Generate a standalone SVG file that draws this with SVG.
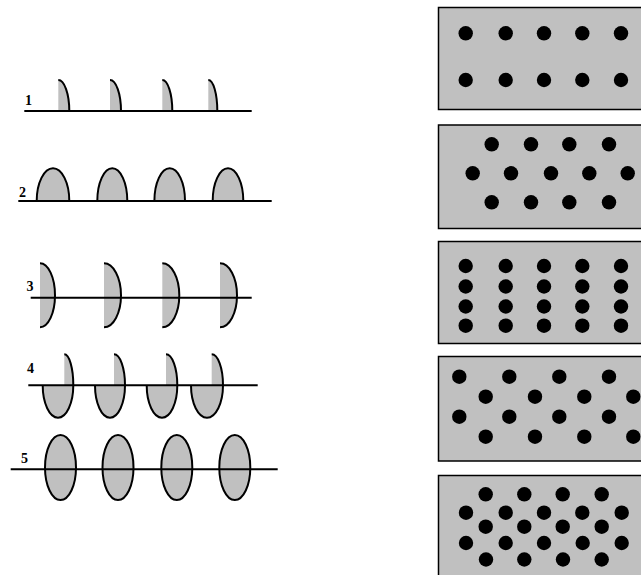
<svg xmlns="http://www.w3.org/2000/svg" width="641" height="575" viewBox="0 0 641 575">
<style>
.f{fill:#c0c0c0;stroke:none}
.c{fill:none;stroke:#000;stroke-width:2}
.e{fill:#c0c0c0;stroke:#000;stroke-width:2}
.ln{stroke:#000;stroke-width:2}
.lb{font-family:"Liberation Serif",serif;font-weight:bold;font-size:14px;fill:#000}
.p{fill:#c0c0c0;stroke:#000;stroke-width:1.5}
.d circle{fill:#000}
</style>
<rect width="641" height="575" fill="#fff"/>
<g id="row1">
<path class="f" d="M58.3,111 V80 A11,31 0 0 1 69.3,111 Z"/>
<path class="c" d="M58.3,80 A11,31 0 0 1 69.3,111"/>
<path class="f" d="M110,111 V80 A11,31 0 0 1 121,111 Z"/>
<path class="c" d="M110,80 A11,31 0 0 1 121,111"/>
<path class="f" d="M162.3,111 V80 A10,31 0 0 1 172.3,111 Z"/>
<path class="c" d="M162.3,80 A10,31 0 0 1 172.3,111"/>
<path class="f" d="M208.3,111 V80 A9,31 0 0 1 217.3,111 Z"/>
<path class="c" d="M208.3,80 A9,31 0 0 1 217.3,111"/>
<line class="ln" x1="24.3" y1="111" x2="251.7" y2="111"/>
<text class="lb" x="25" y="104.5">1</text>
</g>
<g id="row2">
<path class="e" d="M36.7,201 A16.3,32.7 0 0 1 69.3,201"/>
<path class="e" d="M97.3,201 A15,32.7 0 0 1 127.3,201"/>
<path class="e" d="M154.4,201 A15.3,32.7 0 0 1 185,201"/>
<path class="e" d="M212.7,201 A15.3,32.7 0 0 1 243.3,201"/>
<line class="ln" x1="18.3" y1="201" x2="271.7" y2="201"/>
<text class="lb" x="19" y="196.5">2</text>
</g>
<g id="row3">
<path class="f" d="M40,263.3 A15,32 0 0 1 40,327.3 Z"/>
<path class="c" d="M40,263.3 A15,32 0 0 1 40,327.3"/>
<path class="f" d="M104,263.3 A17,32 0 0 1 104,327.3 Z"/>
<path class="c" d="M104,263.3 A17,32 0 0 1 104,327.3"/>
<path class="f" d="M162.3,263.3 A17,32 0 0 1 162.3,327.3 Z"/>
<path class="c" d="M162.3,263.3 A17,32 0 0 1 162.3,327.3"/>
<path class="f" d="M220,263.3 A17,32 0 0 1 220,327.3 Z"/>
<path class="c" d="M220,263.3 A17,32 0 0 1 220,327.3"/>
<line class="ln" x1="30.7" y1="297.7" x2="251.7" y2="297.7"/>
<text class="lb" x="26.5" y="290.5">3</text>
</g>
<g id="row4">
<path class="e" d="M42.7,385.3 A15.3,32.4 0 0 0 73.3,385.3"/>
<path class="f" d="M64.3,385.3 V354.3 A9,31 0 0 1 73.3,385.3 Z"/>
<path class="c" d="M64.3,354.3 A9,31 0 0 1 73.3,385.3"/>
<path class="e" d="M95,385.3 A15,32.4 0 0 0 125,385.3"/>
<path class="f" d="M114,385.3 V354.3 A11,31 0 0 1 125,385.3 Z"/>
<path class="c" d="M114,354.3 A11,31 0 0 1 125,385.3"/>
<path class="e" d="M146.7,385.3 A15.3,32.4 0 0 0 177.3,385.3"/>
<path class="f" d="M166,385.3 V354.3 A11.3,31 0 0 1 177.3,385.3 Z"/>
<path class="c" d="M166,354.3 A11.3,31 0 0 1 177.3,385.3"/>
<path class="e" d="M191,385.3 A16,32.4 0 0 0 223,385.3"/>
<path class="f" d="M211.7,385.3 V354.3 A11.3,31 0 0 1 223,385.3 Z"/>
<path class="c" d="M211.7,354.3 A11.3,31 0 0 1 223,385.3"/>
<line class="ln" x1="28.3" y1="385.3" x2="257.7" y2="385.3"/>
<text class="lb" x="27" y="372.5">4</text>
</g>
<g id="row5">
<ellipse class="e" cx="60.5" cy="467.5" rx="15.5" ry="32.5"/>
<ellipse class="e" cx="118" cy="467.5" rx="15.5" ry="32.5"/>
<ellipse class="e" cx="176.8" cy="467.5" rx="15.5" ry="32.5"/>
<ellipse class="e" cx="234.8" cy="467.5" rx="15.5" ry="32.5"/>
<line class="ln" x1="10.7" y1="469.3" x2="277.7" y2="469.3"/>
<text class="lb" x="21" y="462.5">5</text>
</g>
<g id="panel1">
<rect class="p" x="438.5" y="7.5" width="210" height="102"/>
<g class="d">
<circle cx="465.7" cy="33.3" r="7.2"/><circle cx="505.7" cy="33.3" r="7.2"/><circle cx="544" cy="33.3" r="7.2"/><circle cx="582.3" cy="33.3" r="7.2"/><circle cx="621" cy="33.3" r="7.2"/>
<circle cx="465.7" cy="80" r="7.2"/><circle cx="505.7" cy="80" r="7.2"/><circle cx="544" cy="80" r="7.2"/><circle cx="582.3" cy="80" r="7.2"/><circle cx="621" cy="80" r="7.2"/>
</g>
</g>
<g id="panel2">
<rect class="p" x="438.5" y="125" width="210" height="103.5"/>
<g class="d">
<circle cx="491.7" cy="144.3" r="7.2"/><circle cx="531" cy="144.3" r="7.2"/><circle cx="569.3" cy="144.3" r="7.2"/><circle cx="609" cy="144.3" r="7.2"/>
<circle cx="472.7" cy="173.3" r="7.2"/><circle cx="511" cy="173.3" r="7.2"/><circle cx="551" cy="173.3" r="7.2"/><circle cx="589.3" cy="173.3" r="7.2"/><circle cx="627.7" cy="173.3" r="7.2"/>
<circle cx="491.7" cy="202.3" r="7.2"/><circle cx="531" cy="202.3" r="7.2"/><circle cx="569.3" cy="202.3" r="7.2"/><circle cx="609" cy="202.3" r="7.2"/>
</g>
</g>
<g id="panel3">
<rect class="p" x="438.5" y="241.5" width="210" height="102"/>
<g class="d">
<circle cx="465.7" cy="266" r="7.2"/><circle cx="505.7" cy="266" r="7.2"/><circle cx="544" cy="266" r="7.2"/><circle cx="582.3" cy="266" r="7.2"/><circle cx="621" cy="266" r="7.2"/>
<circle cx="465.7" cy="286.5" r="7.2"/><circle cx="505.7" cy="286.5" r="7.2"/><circle cx="544" cy="286.5" r="7.2"/><circle cx="582.3" cy="286.5" r="7.2"/><circle cx="621" cy="286.5" r="7.2"/>
<circle cx="465.7" cy="306.5" r="7.2"/><circle cx="505.7" cy="306.5" r="7.2"/><circle cx="544" cy="306.5" r="7.2"/><circle cx="582.3" cy="306.5" r="7.2"/><circle cx="621" cy="306.5" r="7.2"/>
<circle cx="465.7" cy="325.7" r="7.2"/><circle cx="505.7" cy="325.7" r="7.2"/><circle cx="544" cy="325.7" r="7.2"/><circle cx="582.3" cy="325.7" r="7.2"/><circle cx="621" cy="325.7" r="7.2"/>
</g>
</g>
<g id="panel4">
<rect class="p" x="438.5" y="356.5" width="210" height="104.5"/>
<g class="d">
<circle cx="459.3" cy="376.7" r="7.2"/><circle cx="509.3" cy="376.7" r="7.2"/><circle cx="559.3" cy="376.7" r="7.2"/><circle cx="609" cy="376.7" r="7.2"/>
<circle cx="485.7" cy="396.7" r="7.2"/><circle cx="535" cy="396.7" r="7.2"/><circle cx="584.3" cy="396.7" r="7.2"/><circle cx="633.3" cy="396.7" r="7.2"/>
<circle cx="459.3" cy="416.7" r="7.2"/><circle cx="509.3" cy="416.7" r="7.2"/><circle cx="559.3" cy="416.7" r="7.2"/><circle cx="609" cy="416.7" r="7.2"/>
<circle cx="485.7" cy="436.7" r="7.2"/><circle cx="535" cy="436.7" r="7.2"/><circle cx="584.3" cy="436.7" r="7.2"/><circle cx="633.3" cy="436.7" r="7.2"/>
</g>
</g>
<g id="panel5">
<rect class="p" x="438.5" y="475.5" width="210" height="110"/>
<g class="d">
<circle cx="485.7" cy="494.3" r="7.2"/><circle cx="524.3" cy="494.3" r="7.2"/><circle cx="562.7" cy="494.3" r="7.2"/><circle cx="601.7" cy="494.3" r="7.2"/>
<circle cx="466" cy="512.7" r="7.2"/><circle cx="505.7" cy="512.7" r="7.2"/><circle cx="544" cy="512.7" r="7.2"/><circle cx="582.3" cy="512.7" r="7.2"/><circle cx="621.7" cy="512.7" r="7.2"/>
<circle cx="485.7" cy="526.7" r="7.2"/><circle cx="524.3" cy="526.7" r="7.2"/><circle cx="562.7" cy="526.7" r="7.2"/><circle cx="601.7" cy="526.7" r="7.2"/>
<circle cx="466" cy="543" r="7.2"/><circle cx="505.7" cy="543" r="7.2"/><circle cx="544" cy="543" r="7.2"/><circle cx="582.7" cy="543" r="7.2"/><circle cx="621.7" cy="543" r="7.2"/>
<circle cx="486" cy="559.5" r="7.2"/><circle cx="524.3" cy="559.5" r="7.2"/><circle cx="563" cy="559.5" r="7.2"/><circle cx="601.7" cy="559.5" r="7.2"/>
</g>
</g>
</svg>
